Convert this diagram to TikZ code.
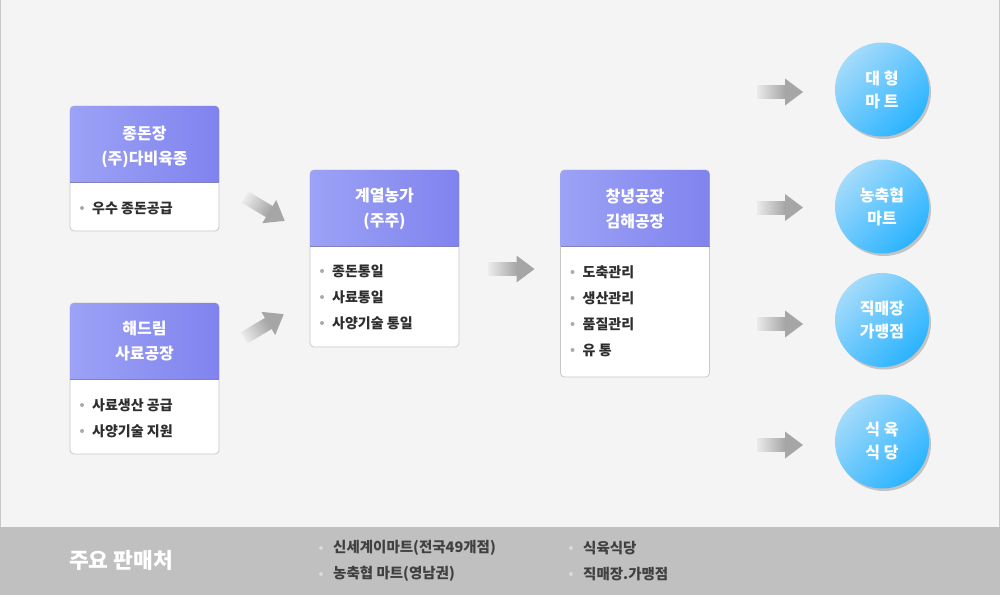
\documentclass[tikz,border=0pt]{standalone}
\usepackage{fontspec}
\setmainfont{Noto Sans CJK KR}
\usetikzlibrary{shadows}
\definecolor{bg}{HTML}{F4F4F4}
\definecolor{edge}{HTML}{C8C8C8}
\definecolor{band}{HTML}{C0C0C0}
\definecolor{hdrA}{HTML}{9CA2F5}
\definecolor{hdrB}{HTML}{8083EE}
\definecolor{agray}{HTML}{A6A6A6}
\definecolor{txt}{HTML}{2E2E2E}
\definecolor{btxt}{HTML}{404040}
\definecolor{dot}{HTML}{ABABAB}
\definecolor{cirA}{HTML}{A4DBFB}
\definecolor{cirM}{HTML}{3CBAFE}
\definecolor{cirB}{HTML}{2AB3FF}
\tikzset{
  blockarrow/.pic={
    \shade[left color=agray!12!bg, right color=agray] (-23,-6.5) rectangle (5.2,6.5);
    \fill[agray] (5,-13.5) -- (23,0) -- (5,13.5) -- cycle;
  },
  bodybox/.style={fill=white, draw=edge, line width=0.8pt, rounded corners=4pt},
  hdrfill/.style={left color=hdrA, right color=hdrB},
  hdrtext/.style={text=white, font=\bfseries\fontsize{16}{25}\selectfont, align=center, inner sep=0pt},
  itemtext/.style={text=txt, font=\bfseries\fontsize{14}{16}\selectfont, anchor=west, inner sep=0pt},
  bitemtext/.style={text=btxt, font=\bfseries\fontsize{14.5}{16}\selectfont, anchor=west, inner sep=0pt},
  bulletdot/.style={circle, fill=dot, minimum size=4pt, inner sep=0pt},
  market/.style={circle, minimum size=94pt, inner sep=0pt, top color=cirA, middle color=cirM, bottom color=cirB, shading angle=45,
    drop shadow={shadow xshift=2pt, shadow yshift=-2.5pt, fill=black, opacity=0.2},
    text=white, font=\bfseries\fontsize{16}{23}\selectfont, align=center}
}
\newcommand\placearrow[3]{\begin{scope}[transform canvas={shift={(#1,#2)},rotate=#3}]\pic{blockarrow};\end{scope}}
\newcommand\unitbox[5]{% left, top, header bottom, body bottom, name
  \draw[bodybox] (#1,#2) rectangle (#1+149,#4);
  \shade[hdrfill] (#1,#3) [rounded corners=4pt]-- (#1,#2) -- (#1+149,#2) [sharp corners]-- (#1+149,#3) -- cycle;
  \draw[color=hdrB!55!gray, line width=0.8pt] (#1,#3) -- (#1+149,#3);
}
\begin{document}
\begin{tikzpicture}[x=1pt,y=-1pt]
\useasboundingbox (0,0) rectangle (1000,595);
% background
\fill[bg] (0,0) rectangle (1000,527);
\fill[band] (0,527) rectangle (1000,595);
\draw[edge, line width=1pt] (0.5,0) -- (0.5,527);
\draw[edge, line width=1pt] (999.5,0) -- (999.5,527);

% boxes
\unitbox{70}{106}{182}{231}{b1}
\unitbox{70}{303}{379}{454}{b2}
\unitbox{310}{170}{246}{347}{b3}
\unitbox{560.5}{170}{246}{377}{b4}

% header texts
\node[hdrtext] (h1) at (144.5,147) {종돈장\\(주)다비육종};
\node[hdrtext] (h2) at (144.5,341) {해드림\\사료공장};
\node[hdrtext] (h3) at (384.5,209) {계열농가\\(주주)};
\node[hdrtext] (h4) at (635,208.5) {창녕공장\\김해공장};

% body items
\node[bulletdot] (d11) at (82,208) {};
\node[itemtext] (t11) at (92,208) {우수 종돈공급};

\node[bulletdot] (d21) at (82,405) {};
\node[itemtext] (t21) at (92,405) {사료생산 공급};
\node[bulletdot] (d22) at (82,431) {};
\node[itemtext] (t22) at (92,431) {사양기술 지원};

\node[bulletdot] (d31) at (322,271) {};
\node[itemtext] (t31) at (332,271) {종돈통일};
\node[bulletdot] (d32) at (322,297) {};
\node[itemtext] (t32) at (332,297) {사료통일};
\node[bulletdot] (d33) at (322,323) {};
\node[itemtext] (t33) at (332,323) {사양기술 통일};

\node[bulletdot] (d41) at (572.5,272) {};
\node[itemtext] (t41) at (582.5,272) {도축관리};
\node[bulletdot] (d42) at (572.5,298) {};
\node[itemtext] (t42) at (582.5,298) {생산관리};
\node[bulletdot] (d43) at (572.5,324) {};
\node[itemtext] (t43) at (582.5,324) {품질관리};
\node[bulletdot] (d44) at (572.5,350) {};
\node[itemtext] (t44) at (582.5,350) {유 통};

% markets
\node[market] (m1) at (882,89.5) {대 형\\마 트};
\node[market] (m2) at (882,206.5) {농축협\\마트};
\node[market] (m3) at (882,320) {직매장\\가맹점};
\node[market] (m4) at (882,441.5) {식 육\\식 당};

% block arrows
\placearrow{265}{209}{-31}
\placearrow{264}{326}{31}
\pic at (511.5,269) {blockarrow};
\pic at (780,92) {blockarrow};
\pic at (780,207.5) {blockarrow};
\pic at (780,324) {blockarrow};
\pic at (780,445) {blockarrow};

% bottom band
\node[text=white, font=\bfseries\fontsize{21.5}{24}\selectfont, anchor=west, inner sep=0pt] (sales) at (69,560) {주요 판매처};
\node[bulletdot, fill=white!75!band!80!gray] (e1) at (321,548) {};
\node[bitemtext] (s1) at (333,548) {신세계이마트(전국49개점)};
\node[bulletdot, fill=white!75!band!80!gray] (e2) at (321,574) {};
\node[bitemtext] (s2) at (333,574) {농축협 마트(영남권)};
\node[bulletdot, fill=white!75!band!80!gray] (e3) at (571,548) {};
\node[bitemtext] (s3) at (583,548) {식육식당};
\node[bulletdot, fill=white!75!band!80!gray] (e4) at (571,574) {};
\node[bitemtext] (s4) at (583,574) {직매장.가맹점};
\end{tikzpicture}
\end{document}
